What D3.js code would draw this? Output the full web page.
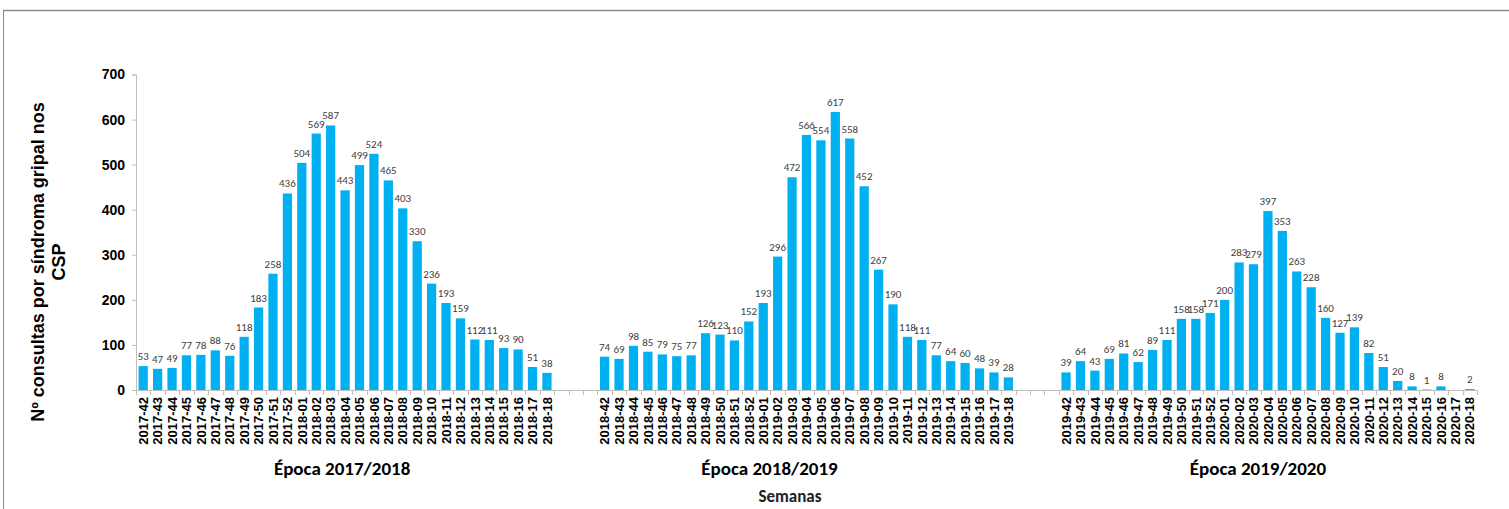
<!DOCTYPE html>
<html>
<head>
<meta charset="utf-8">
<script src="https://cdn.jsdelivr.net/npm/d3@7"></script>
<style>
  body { margin: 0; background: #fff; }
  svg { display: block; }
</style>
</head>
<body>
<svg id="chart" width="1509" height="509"></svg>
<script>
// weekly counts, one array per season
var weeks1 = ['2017-42', '2017-43', '2017-44', '2017-45', '2017-46', '2017-47', '2017-48', '2017-49', '2017-50', '2017-51', '2017-52',
  '2018-01', '2018-02', '2018-03', '2018-04', '2018-05', '2018-06', '2018-07', '2018-08', '2018-09', '2018-10',
  '2018-11', '2018-12', '2018-13', '2018-14', '2018-15', '2018-16', '2018-17', '2018-18']
var values1 = [53, 47, 49, 77, 78, 88, 76, 118, 183, 258, 436, 504, 569, 587, 443, 499, 524, 465, 403, 330, 236, 193, 159, 112, 111, 93, 90, 51, 38]

var weeks2 = ['2018-42', '2018-43', '2018-44', '2018-45', '2018-46', '2018-47', '2018-48', '2018-49', '2018-50', '2018-51', '2018-52',
  '2019-01', '2019-02', '2019-03', '2019-04', '2019-05', '2019-06', '2019-07', '2019-08', '2019-09', '2019-10',
  '2019-11', '2019-12', '2019-13', '2019-14', '2019-15', '2019-16', '2019-17', '2019-18']
var values2 = [74, 69, 98, 85, 79, 75, 77, 126, 123, 110, 152, 193, 296, 472, 566, 554, 617, 558, 452, 267, 190, 118, 111, 77, 64, 60, 48, 39, 28]

var weeks3 = ['2019-42', '2019-43', '2019-44', '2019-45', '2019-46', '2019-47', '2019-48', '2019-49', '2019-50', '2019-51', '2019-52',
  '2020-01', '2020-02', '2020-03', '2020-04', '2020-05', '2020-06', '2020-07', '2020-08', '2020-09', '2020-10',
  '2020-11', '2020-12', '2020-13', '2020-14', '2020-15', '2020-16', '2020-17', '2020-18']
var values3 = [39, 64, 43, 69, 81, 62, 89, 111, 158, 158, 171, 200, 283, 279, 397, 353, 263, 228, 160, 127, 139, 82, 51, 20, 8, 1, 8, null, 2]

var seasonNames = ['Época 2017/2018', 'Época 2018/2019', 'Época 2019/2020']
var yTicks = [0, 100, 200, 300, 400, 500, 600, 700]

var seasons = [
  { name: seasonNames[0], weeks: weeks1, values: values1 },
  { name: seasonNames[1], weeks: weeks2, values: values2 },
  { name: seasonNames[2], weeks: weeks3, values: values3 }
]

// build one category list, with 3 empty slots between seasons (as in the excel chart)
var categories = []
var data = []
seasons.forEach(function (s, i) {
  if (i > 0) {
    for (var g = 0; g < 3; g++) categories.push('gap' + i + '-' + g)
  }
  s.weeks.forEach(function (w, j) {
    categories.push(w)
    if (s.values[j] !== null) data.push({ week: w, value: s.values[j] })
  })
})

var plotLeft = 136
var plotRight = 1477
var plotTop = 74.5
var plotBottom = 390

var ARIAL = '"Liberation Sans", Arial, sans-serif'
var CALIBRI = 'Carlito, Calibri, Lato, sans-serif'

var svg = d3.select('#chart')

var x = d3.scaleBand()
  .domain(categories)
  .range([plotLeft, plotRight])
  .paddingInner(0.36)
  .paddingOuter(0.18)

var y = d3.scaleLinear()
  .domain([0, 700])
  .range([plotBottom, plotTop])

// frame lines of the slide
svg.append('line')
  .attr('x1', 3).attr('x2', 1509).attr('y1', 10.5).attr('y2', 10.5)
  .attr('stroke', '#8c8c8c').attr('stroke-width', 1.5)
svg.append('line')
  .attr('x1', 3.5).attr('x2', 3.5).attr('y1', 10).attr('y2', 509)
  .attr('stroke', '#8c8c8c').attr('stroke-width', 1)

// y axis
var yAxis = svg.append('g')
  .attr('transform', 'translate(' + plotLeft + ',0)')
  .call(d3.axisLeft(y).tickValues(yTicks).tickSize(4).tickPadding(7))
yAxis.select('.domain').attr('stroke', '#bfbfbf')
yAxis.selectAll('.tick line').attr('stroke', '#bfbfbf')
yAxis.selectAll('text')
  .attr('fill', '#000')
  .style('font-family', ARIAL)
  .style('font-weight', 'bold')
  .style('font-size', '14px')

// x axis: line + ticks at slot boundaries
var step = x.step()
var bounds = categories.map(function (c) { return x(c) + x.bandwidth() / 2 - step / 2 })
bounds.push(plotRight)

svg.append('line')
  .attr('x1', plotLeft).attr('x2', plotRight)
  .attr('y1', plotBottom + 0.5).attr('y2', plotBottom + 0.5)
  .attr('stroke', '#bfbfbf')

svg.append('g').selectAll('line')
  .data(bounds)
  .join('line')
  .attr('x1', function (d) { return Math.round(d) + 0.5 })
  .attr('x2', function (d) { return Math.round(d) + 0.5 })
  .attr('y1', plotBottom)
  .attr('y2', plotBottom + 5)
  .attr('stroke', '#bfbfbf')

// bars
svg.append('g').selectAll('rect')
  .data(data)
  .join('rect')
  .attr('x', function (d) { return x(d.week) })
  .attr('width', x.bandwidth())
  .attr('y', function (d) { return y(d.value) })
  .attr('height', function (d) { return plotBottom - y(d.value) })
  .attr('fill', '#00b0f0')

// value labels
svg.append('g').selectAll('text')
  .data(data)
  .join('text')
  .attr('x', function (d) { return x(d.week) + x.bandwidth() / 2 })
  .attr('y', function (d) { return y(d.value) - 6 })
  .attr('text-anchor', 'middle')
  .attr('fill', '#404040')
  .style('font-family', CALIBRI)
  .style('font-size', '11px')
  .text(function (d) { return d.value })

// week labels (rotated)
var weekLabels = weeks1.concat(weeks2, weeks3)
svg.append('g').selectAll('text')
  .data(weekLabels)
  .join('text')
  .attr('transform', function (d) {
    return 'translate(' + (x(d) + x.bandwidth() / 2) + ',' + (plotBottom + 7) + ') rotate(-90)'
  })
  .attr('dy', '0.36em')
  .attr('text-anchor', 'end')
  .attr('fill', '#000')
  .style('font-family', ARIAL)
  .style('font-weight', 'bold')
  .style('font-size', '13px')
  .text(function (d) { return d })

// season labels (hand-placed in the original, so small nudges)
var nudge = [-3, -37, -10]
svg.append('g').selectAll('text')
  .data(seasons)
  .join('text')
  .attr('x', function (s, i) {
    var a = x(s.weeks[0])
    var b = x(s.weeks[s.weeks.length - 1]) + x.bandwidth()
    return (a + b) / 2 + nudge[i]
  })
  .attr('y', 475)
  .attr('text-anchor', 'middle')
  .attr('fill', '#000')
  .style('font-family', CALIBRI)
  .style('font-weight', 'bold')
  .style('font-size', '19px')
  .text(function (s) { return s.name })

svg.append('text')
  .attr('x', 790)
  .attr('y', 502)
  .attr('text-anchor', 'middle')
  .attr('fill', '#222')
  .style('font-family', CALIBRI)
  .style('font-weight', 'bold')
  .style('font-size', '17px')
  .text('Semanas')

// y title, two lines
var yTitle = svg.append('text')
  .attr('transform', 'translate(44,262) rotate(-90)')
  .attr('text-anchor', 'middle')
  .attr('fill', '#000')
  .style('font-family', ARIAL)
  .style('font-weight', 'bold')
  .style('font-size', '18px')
yTitle.append('tspan').attr('x', 0).attr('dy', 0).text('Nº consultas por síndroma gripal nos')
yTitle.append('tspan').attr('x', 0).attr('dy', 21).text('CSP')
</script>
</body>
</html>
